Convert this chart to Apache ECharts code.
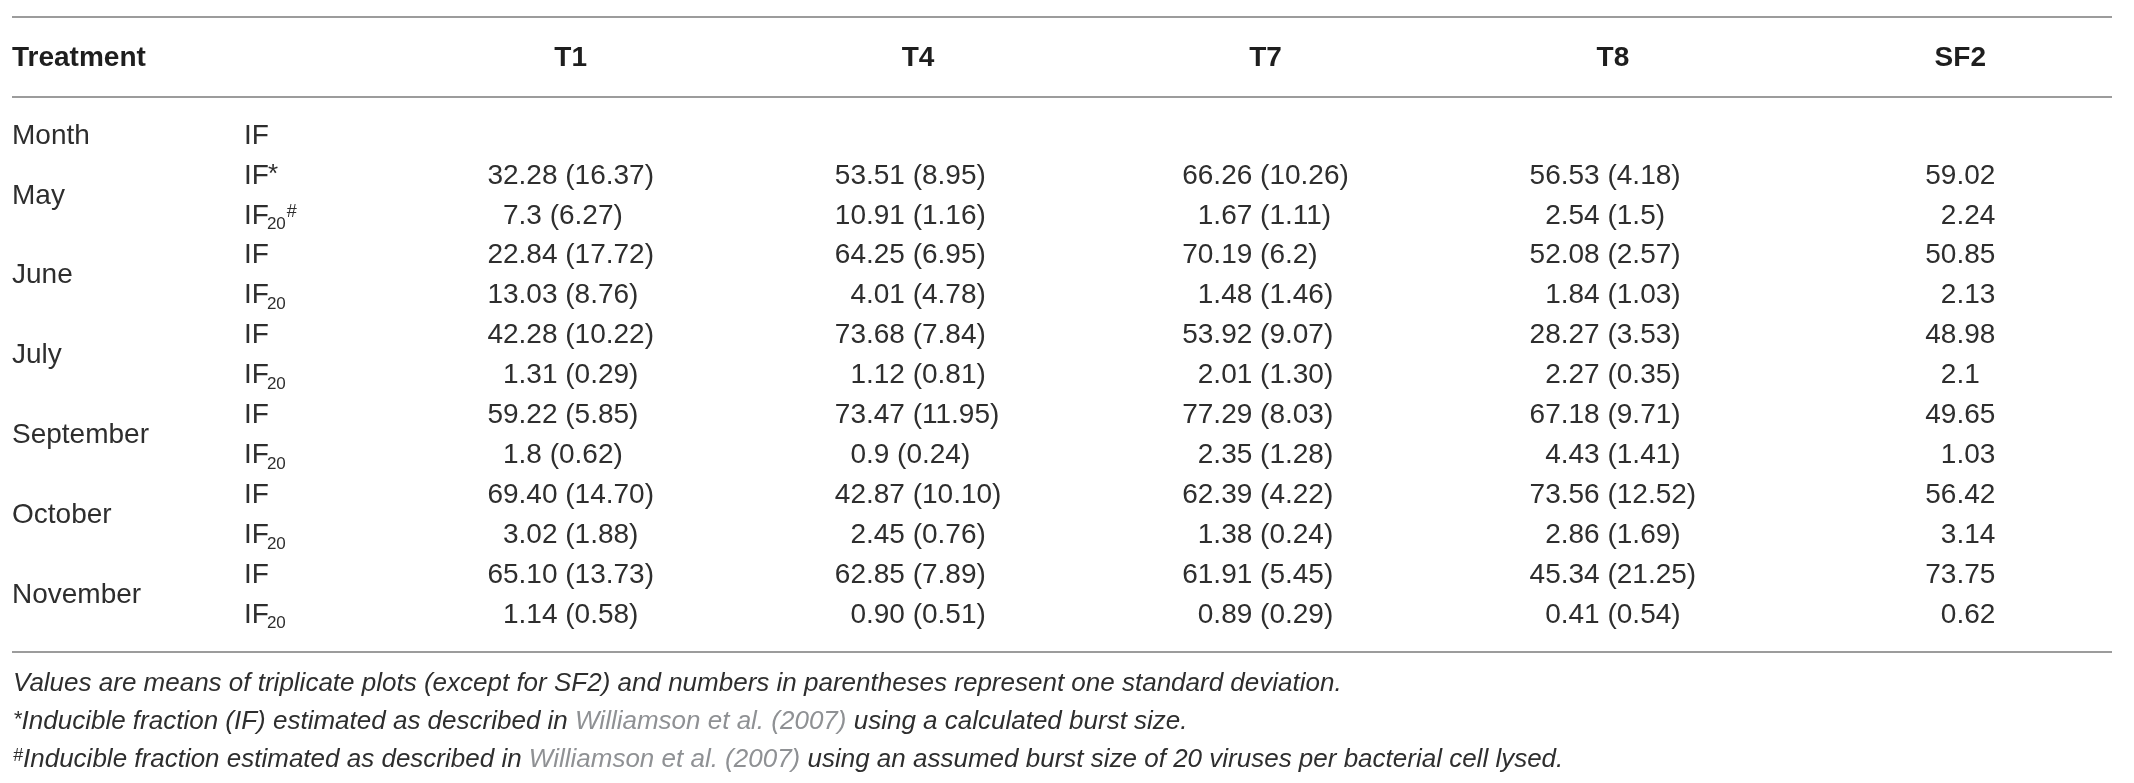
<!DOCTYPE html>
<html>
<head>
<meta charset="utf-8">
<script src="https://cdn.jsdelivr.net/npm/echarts@6/dist/echarts.min.js"></script>
<style>
html,body{margin:0;padding:0;background:#fff;}
#chart{width:2134px;height:783px;}
</style>
</head>
<body>
<div id="chart"></div>
<script>
// ---- data ----
const columns = ['T1', 'T4', 'T7', 'T8', 'SF2'];
const months = ['Month', 'May', 'June', 'July', 'September', 'October', 'November'];
const rowKeys = ['Month IF', 'May IF', 'May IF20', 'June IF', 'June IF20', 'July IF', 'July IF20',
  'September IF', 'September IF20', 'October IF', 'October IF20', 'November IF', 'November IF20'];
const rowLabelBase = ['IF', 'IF', 'IF', 'IF', 'IF', 'IF', 'IF', 'IF', 'IF', 'IF', 'IF', 'IF', 'IF'];
const rowLabelSub = ['', '', '20', '', '20', '', '20', '', '20', '', '20', '', '20'];
const rowLabelSup = ['', '*', '#', '', '', '', '', '', '', '', '', '', ''];
const valuesT1 = ['32.28 (16.37)', '7.3 (6.27)', '22.84 (17.72)', '13.03 (8.76)', '42.28 (10.22)', '1.31 (0.29)',
  '59.22 (5.85)', '1.8 (0.62)', '69.40 (14.70)', '3.02 (1.88)', '65.10 (13.73)', '1.14 (0.58)'];
const valuesT4 = ['53.51 (8.95)', '10.91 (1.16)', '64.25 (6.95)', '4.01 (4.78)', '73.68 (7.84)', '1.12 (0.81)',
  '73.47 (11.95)', '0.9 (0.24)', '42.87 (10.10)', '2.45 (0.76)', '62.85 (7.89)', '0.90 (0.51)'];
const valuesT7 = ['66.26 (10.26)', '1.67 (1.11)', '70.19 (6.2)', '1.48 (1.46)', '53.92 (9.07)', '2.01 (1.30)',
  '77.29 (8.03)', '2.35 (1.28)', '62.39 (4.22)', '1.38 (0.24)', '61.91 (5.45)', '0.89 (0.29)'];
const valuesT8 = ['56.53 (4.18)', '2.54 (1.5)', '52.08 (2.57)', '1.84 (1.03)', '28.27 (3.53)', '2.27 (0.35)',
  '67.18 (9.71)', '4.43 (1.41)', '73.56 (12.52)', '2.86 (1.69)', '45.34 (21.25)', '0.41 (0.54)'];
const valuesSF2 = ['59.02', '2.24', '50.85', '2.13', '48.98', '2.1', '49.65', '1.03', '56.42', '3.14', '73.75', '0.62'];
const headerLabel = 'Treatment';
const footnote1 = 'Values are means of triplicate plots (except for SF2) and numbers in parentheses represent one standard deviation.';
const footnote2 = '{ast|*}Inducible fraction (IF) estimated as described in {link|Williamson et al. (2007)} using a calculated burst size.';
const footnote3 = '{hash|#}Inducible fraction estimated as described in {link|Williamson et al. (2007)} using an assumed burst size of 20 viruses per bacterial cell lysed.';

// ---- styling / helpers ----
const FAMILY = '"Liberation Sans", Arial, Helvetica, sans-serif';
const TEXT = '#2e2e2e';
const LINK = '#8f9194';
const RULE = '#9c9c9c';
const FS = 28;
const FN = 26;
const colValues = [valuesT1, valuesT4, valuesT7, valuesT8, valuesSF2];

const mctx = document.createElement('canvas').getContext('2d');
function measure(t, size, weight) {
  mctx.font = (weight || 'normal') + ' ' + size + 'px ' + FAMILY;
  return mctx.measureText(t).width;
}
function splitDec(s) {
  const i = s.indexOf('.');
  return i < 0 ? [s, ''] : [s.slice(0, i), s.slice(i)];
}
// decimal anchor offset per column: widest entry centred in its column
const anchorOffset = colValues.map(vals => {
  let best = vals[0], bw = 0;
  vals.forEach(v => { const w = measure(v, FS); if (w > bw) { bw = w; best = v; } });
  return -bw / 2 + measure(splitDec(best)[0], FS);
});

const cellData = [];
colValues.forEach((vals, c) => vals.forEach((v, r) => cellData.push([c, r + 1])));
const rowData = rowKeys.map((k, r) => [0, r]);
const monthData = months.map((m, i) => i === 0 ? [0, 0, 0, i] : [0, 2 * i - 1, 2 * i, i]);

const ROW0 = 136, BAND = 39.9;
const gridTop = ROW0 - BAND / 2;
const gridLeft = 397, bandW = 348;

function txt(x, y, text, size, align) {
  return {
    type: 'text', x: x, y: y,
    style: { text: text, fontSize: size, fontFamily: FAMILY, fill: TEXT, align: align || 'left', verticalAlign: 'middle' }
  };
}
const richFoot = {
  link: { fontSize: FN, fontStyle: 'italic', fontFamily: FAMILY, fill: LINK },
  ast: { fontSize: 22, fontStyle: 'italic', fontFamily: FAMILY, fill: TEXT, verticalAlign: 'top' },
  hash: { fontSize: 18, fontStyle: 'italic', fontFamily: FAMILY, fill: TEXT, verticalAlign: 'top' }
};

const chart = echarts.init(document.getElementById('chart'), null, { renderer: 'canvas' });
chart.setOption({
  animation: false,
  backgroundColor: '#ffffff',
  grid: { left: gridLeft, top: gridTop, width: bandW * columns.length, height: BAND * rowKeys.length },
  xAxis: {
    type: 'category', data: columns, position: 'top',
    axisLine: { show: false }, axisTick: { show: false }, splitLine: { show: false },
    axisLabel: {
      color: '#1e1e1e', fontSize: FS, fontWeight: 'bold', fontFamily: FAMILY,
      verticalAlign: 'middle', margin: gridTop - 58
    }
  },
  yAxis: {
    type: 'category', data: rowKeys, inverse: true, show: false
  },
  graphic: [
    { type: 'line', shape: { x1: 12, y1: 17, x2: 2112, y2: 17 }, style: { stroke: RULE, lineWidth: 2 } },
    { type: 'line', shape: { x1: 12, y1: 97, x2: 2112, y2: 97 }, style: { stroke: RULE, lineWidth: 2 } },
    { type: 'line', shape: { x1: 12, y1: 652, x2: 2112, y2: 652 }, style: { stroke: RULE, lineWidth: 2 } },
    { type: 'text', x: 12, y: 58, style: { text: headerLabel, fontSize: FS, fontWeight: 'bold', fontFamily: FAMILY, fill: '#1e1e1e', verticalAlign: 'middle' } },
    { type: 'text', x: 13, y: 684, style: { text: footnote1, fontSize: FN, fontStyle: 'italic', fontFamily: FAMILY, fill: TEXT, verticalAlign: 'middle' } },
    { type: 'text', x: 13, y: 722, style: { text: footnote2, fontSize: FN, fontStyle: 'italic', fontFamily: FAMILY, fill: TEXT, verticalAlign: 'middle', rich: richFoot } },
    { type: 'text', x: 13, y: 760, style: { text: footnote3, fontSize: FN, fontStyle: 'italic', fontFamily: FAMILY, fill: TEXT, verticalAlign: 'middle', rich: richFoot } }
  ],
  series: [
    {
      type: 'custom', name: 'cells', coordinateSystem: 'cartesian2d', silent: true,
      data: cellData, encode: { x: 0, y: 1 },
      renderItem: function (params, api) {
        const c = api.value(0), r = api.value(1);
        const pt = api.coord([c, r]);
        const parts = splitDec(colValues[c][r - 1]);
        const ax = pt[0] + anchorOffset[c];
        return { type: 'group', children: [
          txt(ax, pt[1], parts[0], FS, 'right'),
          txt(ax, pt[1], parts[1], FS, 'left')
        ] };
      }
    },
    {
      type: 'custom', name: 'rowLabels', coordinateSystem: 'cartesian2d', silent: true,
      data: rowData, encode: { x: 0, y: 1 },
      renderItem: function (params, api) {
        const r = api.value(1);
        const pt = api.coord([0, r]);
        const x0 = params.coordSys.x - 153;
        const y = pt[1];
        const base = rowLabelBase[r], sub = rowLabelSub[r], sup = rowLabelSup[r];
        const wb = measure(base, FS) - 2;
        const children = [txt(x0, y, base, FS, 'left')];
        let x = x0 + wb;
        if (sub) { children.push(txt(x, y + 9, sub, 17, 'left')); x += measure(sub, 17); }
        if (sup) { children.push(txt(x + 1, y - (sup === '*' ? 1 : 4), sup, sup === '*' ? 26 : 18, 'left')); }
        return { type: 'group', children: children };
      }
    },
    {
      type: 'custom', name: 'months', coordinateSystem: 'cartesian2d', silent: true,
      data: monthData, encode: { x: 0, y: 1 },
      renderItem: function (params, api) {
        const p1 = api.coord([0, api.value(1)]);
        const p2 = api.coord([0, api.value(2)]);
        return txt(12, (p1[1] + p2[1]) / 2, months[api.value(3)], FS, 'left');
      }
    }
  ]
});
</script>
</body>
</html>
